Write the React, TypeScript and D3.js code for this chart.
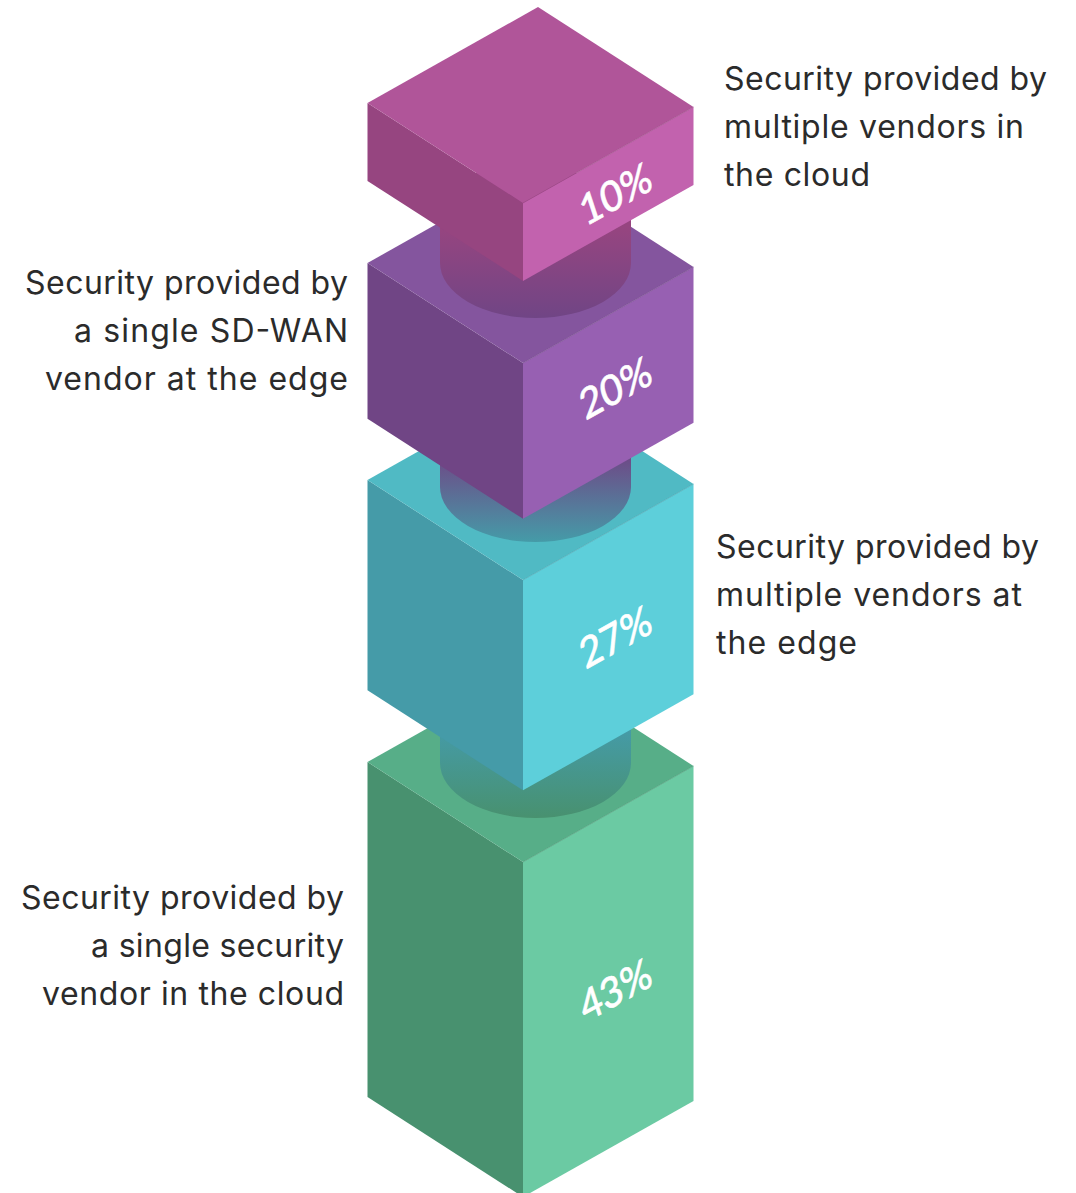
import { useEffect, useRef } from 'react';
import * as d3 from 'd3';

// bottom block first, that's the draw order
const shares = [43, 27, 20, 10];
const shareLabels = ['43%', '27%', '20%', '10%'];
const leftFaceColors = ['#48916f', '#459ba8', '#704585', '#964580'];
const rightFaceColors = ['#6bcaa3', '#5dcfda', '#9760b2', '#c262ae'];
const topFaceColors = ['#57ae88', '#50bac4', '#84559e', '#b05599'];
const descriptions = [
  ['Security provided by', 'a single security', 'vendor in the cloud'],
  ['Security provided by', 'multiple vendors at', 'the edge'],
  ['Security provided by', 'a single SD-WAN', 'vendor at the edge'],
  ['Security provided by', 'multiple vendors in', 'the cloud'],
];
// measured line widths, the original font is not installed
const descriptionWidths = [
  [323, 253, 302],
  [323, 306, 141],
  [323, 274, 303],
  [323, 300, 146],
];

const width = 1076;
const height = 1193;
const font = 'Inter, sans-serif';

// y of each block's left top corner
const blockTops = [762, 480, 263, 103];
// lowest point of the neck standing on each block
const neckBottoms = [818, 542, 318];
const shareLabelYs = [990, 637, 388, 194];
const labelPos = [
  { x: 344, y: 909, anchor: 'end' },
  { x: 716, y: 558, anchor: 'start' },
  { x: 348, y: 294, anchor: 'end' },
  { x: 724, y: 90, anchor: 'start' },
];

const App = () => {
  const ref = useRef<SVGSVGElement>(null);

  useEffect(() => {
    const svg = d3.select(ref.current);
    svg.selectAll('*').remove();

    const heightScale = d3.scaleLinear().domain([0, 43]).range([0, 335]);
    const line = d3.line();
    const defs = svg.append('defs');

    const left = 367.5, mid = 523, right = 693.5;
    const cylLeft = 440, cylRight = 631;

    shares.forEach((share, i) => {
      const t = blockTops[i];
      const h = heightScale(share);
      const g = svg.append('g');

      const face = (pts: [number, number][], fill: string) =>
        g.append('path').attr('d', line(pts) + 'Z').attr('fill', fill);

      face([[left, t], [mid, t + 100], [mid, t + 100 + h], [left, t + h]], leftFaceColors[i]);
      face([[mid, t + 100], [right, t + 4], [right, t + 4 + h], [mid, t + 100 + h]], rightFaceColors[i]);
      face([[left, t], [538, t - 96], [right, t + 4], [mid, t + 100]], topFaceColors[i]);

      // thin darker seam between top and right face
      g.append('path')
        .attr('d', line([[mid, t + 100], [right, t + 4]]))
        .attr('stroke', leftFaceColors[i])
        .attr('stroke-width', 0.8)
        .attr('stroke-opacity', 0.6)
        .attr('fill', 'none');

      // neck going up to the next block
      if (i < shares.length - 1) {
        const bottom = neckBottoms[i];
        const ry = 55;
        const cy = bottom - ry;
        const id = 'neck' + i;
        const grad = defs.append('linearGradient').attr('id', id)
          .attr('gradientUnits', 'userSpaceOnUse')
          .attr('x1', 0).attr('x2', 0)
          .attr('y1', cy - 35).attr('y2', bottom);
        grad.append('stop').attr('offset', 0).attr('stop-color', leftFaceColors[i + 1]);
        grad.append('stop').attr('offset', 1).attr('stop-color', leftFaceColors[i]);
        const rx = (cylRight - cylLeft) / 2;
        g.append('path')
          .attr('d', `M${cylLeft},${cy - 90}V${cy}A${rx},${ry} 0 0 0 ${cylRight},${cy}V${cy - 90}Z`)
          .attr('fill', `url(#${id})`);
      }
    });

    // percent labels sit on the right face, so they get sheared with it
    shares.forEach((share, i) => {
      svg.append('text')
        .attr('transform', `matrix(0.9,-0.5,0.33,1,615.5,${shareLabelYs[i]})`)
        .attr('text-anchor', 'middle')
        .attr('dy', '0.35em')
        .attr('font-family', 'Lato, sans-serif')
        .attr('font-size', 39)
        .attr('font-weight', 500)
        .attr('stroke', '#ffffff')
        .attr('stroke-width', 0.5)
        .attr('fill', '#ffffff')
        .text(shareLabels[i]);
    });

    descriptions.forEach((lines, i) => {
      const pos = labelPos[i];
      lines.forEach((l, j) => {
        svg.append('text')
          .attr('x', pos.x)
          .attr('y', pos.y + j * 48)
          .attr('font-family', font)
          .attr('font-size', 32)
          .attr('textLength', descriptionWidths[i][j])
          .attr('lengthAdjust', 'spacing')
          .attr('fill', '#2b2b2b')
          .attr('text-anchor', pos.anchor)
          .text(l);
      });
    });
  }, []);

  return (
    <svg
      ref={ref}
      width={width}
      height={height}
      style={{ position: 'absolute', left: 0, top: 0, display: 'block', background: '#fff' }}
    />
  );
};

export default App;
